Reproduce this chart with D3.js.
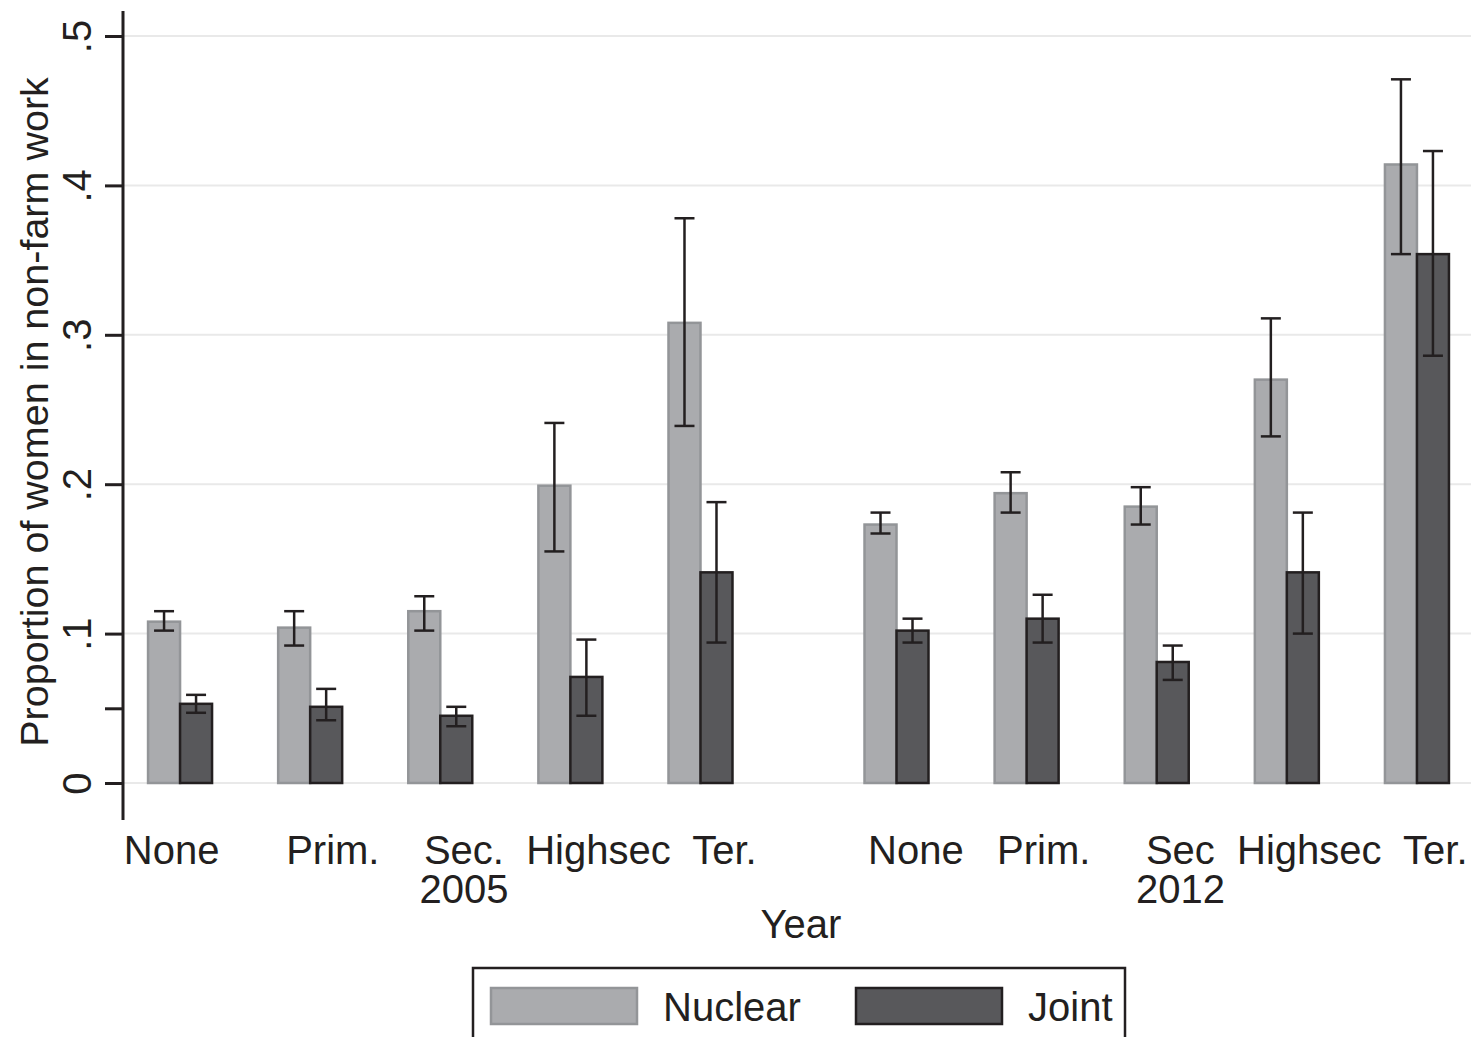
<!DOCTYPE html>
<html>
<head>
<meta charset="utf-8">
<script src="https://cdn.jsdelivr.net/npm/d3@7"></script>
<style>
body { margin: 0; background: #fff; }
svg text { font-family: "Liberation Sans", Arial, sans-serif; fill: #231f20; }
</style>
</head>
<body>
<svg id="chart" width="1471" height="1037"></svg>
<script>
// data
var years = ["2005", "2012"];
var categories = ["None", "Prim.", "Sec.", "Highsec", "Ter."];
// Stata-style group labels (spaces are part of the label text)
var groupLabels = ["None      Prim.    Sec.  Highsec  Ter.", "  None   Prim.     Sec  Highsec  Ter."];
var seriesNames = ["Nuclear", "Joint"];

var nuclear2005 = [0.108, 0.104, 0.115, 0.199, 0.308];
var nuclearLo2005 = [0.102, 0.092, 0.102, 0.155, 0.239];
var nuclearHi2005 = [0.115, 0.115, 0.125, 0.241, 0.378];
var joint2005 = [0.053, 0.051, 0.045, 0.071, 0.141];
var jointLo2005 = [0.047, 0.042, 0.038, 0.045, 0.094];
var jointHi2005 = [0.059, 0.063, 0.051, 0.096, 0.188];

var nuclear2012 = [0.173, 0.194, 0.185, 0.270, 0.414];
var nuclearLo2012 = [0.167, 0.181, 0.173, 0.232, 0.354];
var nuclearHi2012 = [0.181, 0.208, 0.198, 0.311, 0.471];
var joint2012 = [0.102, 0.110, 0.081, 0.141, 0.354];
var jointLo2012 = [0.094, 0.094, 0.069, 0.100, 0.286];
var jointHi2012 = [0.110, 0.126, 0.092, 0.181, 0.423];

var yTickValues = [0, 0.05, 0.1, 0.2, 0.3, 0.4, 0.5];
var yGridValues = [0, 0.1, 0.2, 0.3, 0.4, 0.5];

var svg = d3.select("#chart");
var width = +svg.attr("width"), height = +svg.attr("height");
var axisX = 123;
var barW = 32;
var fontSize = 40;

var fills = { Nuclear: "#aaabae", Joint: "#58585b" };
var strokes = { Nuclear: "#939598", Joint: "#231f20" };

svg.append("rect").attr("width", width).attr("height", height).attr("fill", "#fff");

var y = d3.scaleLinear().domain([0, 0.5]).range([783, 36]);
var x0 = d3.scaleBand().domain(years).range([115, 1482]).paddingInner(0.092).paddingOuter(0);
var x1 = d3.scaleBand().domain(d3.range(categories.length)).range([0, x0.bandwidth()]);

function center(year, ci) {
    return x0(year) + x1(ci) + x1.bandwidth() / 2;
}

var table = {
    "2005": { Nuclear: [nuclear2005, nuclearLo2005, nuclearHi2005], Joint: [joint2005, jointLo2005, jointHi2005] },
    "2012": { Nuclear: [nuclear2012, nuclearLo2012, nuclearHi2012], Joint: [joint2012, jointLo2012, jointHi2012] }
};

var rows = [];
years.forEach(function (yr) {
    categories.forEach(function (c, ci) {
        seriesNames.forEach(function (s, si) {
            var t = table[yr][s];
            rows.push({ year: yr, ci: ci, series: s, si: si, value: t[0][ci], lo: t[1][ci], hi: t[2][ci] });
        });
    });
});

// gridlines
svg.append("g")
    .selectAll("line")
    .data(yGridValues)
    .enter()
    .append("line")
    .attr("x1", axisX)
    .attr("x2", width)
    .attr("y1", function (d) { return y(d); })
    .attr("y2", function (d) { return y(d); })
    .attr("stroke", "#e9e9e9")
    .attr("stroke-width", 2);

// bars
svg.append("g")
    .selectAll("rect")
    .data(rows)
    .enter()
    .append("rect")
    .attr("x", function (d) { return center(d.year, d.ci) - (d.si === 0 ? barW : 0); })
    .attr("y", function (d) { return y(d.value); })
    .attr("width", barW)
    .attr("height", function (d) { return y(0) - y(d.value); })
    .attr("fill", function (d) { return fills[d.series]; })
    .attr("stroke", function (d) { return strokes[d.series]; })
    .attr("stroke-width", 2.5);

// error bars
var capW = 20;
var err = svg.append("g")
    .attr("stroke", "#231f20")
    .attr("stroke-width", 2.5)
    .selectAll("g")
    .data(rows)
    .enter()
    .append("g")
    .attr("transform", function (d) {
        return "translate(" + (center(d.year, d.ci) + (d.si === 0 ? -barW / 2 : barW / 2)) + ",0)";
    });
err.append("line")
    .attr("y1", function (d) { return y(d.lo); })
    .attr("y2", function (d) { return y(d.hi); });
err.append("line")
    .attr("x1", -capW / 2).attr("x2", capW / 2)
    .attr("y1", function (d) { return y(d.hi); })
    .attr("y2", function (d) { return y(d.hi); });
err.append("line")
    .attr("x1", -capW / 2).attr("x2", capW / 2)
    .attr("y1", function (d) { return y(d.lo); })
    .attr("y2", function (d) { return y(d.lo); });

// y axis
var yAxis = svg.append("g")
    .attr("transform", "translate(" + axisX + ",0)")
    .call(d3.axisLeft(y)
        .tickValues(yTickValues)
        .tickSize(18)
        .tickFormat(function (d) {
            if (Math.round(d * 100) % 10 !== 0) return "";
            return d === 0 ? "0" : String(d).replace(/^0/, "");
        }));
yAxis.select(".domain").remove();
yAxis.selectAll(".tick line").attr("stroke", "#231f20").attr("stroke-width", 3);
yAxis.selectAll(".tick text")
    .attr("x", null)
    .attr("dy", null)
    .attr("fill", "#231f20")
    .attr("font-size", fontSize)
    .attr("font-family", "Liberation Sans, Arial, sans-serif")
    .attr("text-anchor", "middle")
    .attr("transform", "translate(-32,0) rotate(-90)");
yAxis.append("line")
    .attr("y1", y(0.5) - 25)
    .attr("y2", y(0) + 37)
    .attr("stroke", "#231f20")
    .attr("stroke-width", 3);

// y title
svg.append("text")
    .attr("transform", "translate(48,412) rotate(-90)")
    .attr("text-anchor", "middle")
    .attr("font-size", 39.5)
    .text("Proportion of women in non-farm work");

// x group labels
years.forEach(function (yr, i) {
    var str = groupLabels[i];
    var line1 = svg.append("text")
        .attr("x", x0(yr) + x0.bandwidth() / 2)
        .attr("y", 864)
        .attr("text-anchor", "middle")
        .attr("font-size", fontSize)
        .attr("xml:space", "preserve")
        .style("white-space", "pre")
        .text(str);
    // put the year under the middle category word
    var words = str.trim().split(/\s+/);
    var mid = words[Math.floor(words.length / 2)];
    var idx = str.indexOf(mid);
    var node = line1.node();
    var cx = x0(yr) + x0.bandwidth() / 2;
    try {
        var a = node.getStartPositionOfChar(idx).x;
        var b = node.getEndPositionOfChar(idx + mid.length - 1).x;
        cx = (a + b) / 2;
    } catch (e) {}
    svg.append("text")
        .attr("x", cx)
        .attr("y", 903)
        .attr("text-anchor", "middle")
        .attr("font-size", fontSize)
        .text(yr);
});

// x title
svg.append("text")
    .attr("x", 801)
    .attr("y", 938)
    .attr("text-anchor", "middle")
    .attr("font-size", fontSize)
    .text("Year");

// legend
var legend = svg.append("g").attr("transform", "translate(473,968)");
legend.append("rect")
    .attr("x", 0).attr("y", 0)
    .attr("width", 652).attr("height", 110)
    .attr("fill", "none")
    .attr("stroke", "#231f20")
    .attr("stroke-width", 2.5);
var item = legend.selectAll("g.item")
    .data(seriesNames)
    .enter()
    .append("g")
    .attr("class", "item")
    .attr("transform", function (d, i) { return "translate(" + (18 + i * 365) + ",20)"; });
item.append("rect")
    .attr("width", 146)
    .attr("height", 36)
    .attr("fill", function (d) { return fills[d]; })
    .attr("stroke", function (d) { return strokes[d]; })
    .attr("stroke-width", 2.5);
item.append("text")
    .attr("x", 172)
    .attr("y", 33)
    .attr("font-size", fontSize)
    .text(function (d) { return d; });
</script>
</body>
</html>
